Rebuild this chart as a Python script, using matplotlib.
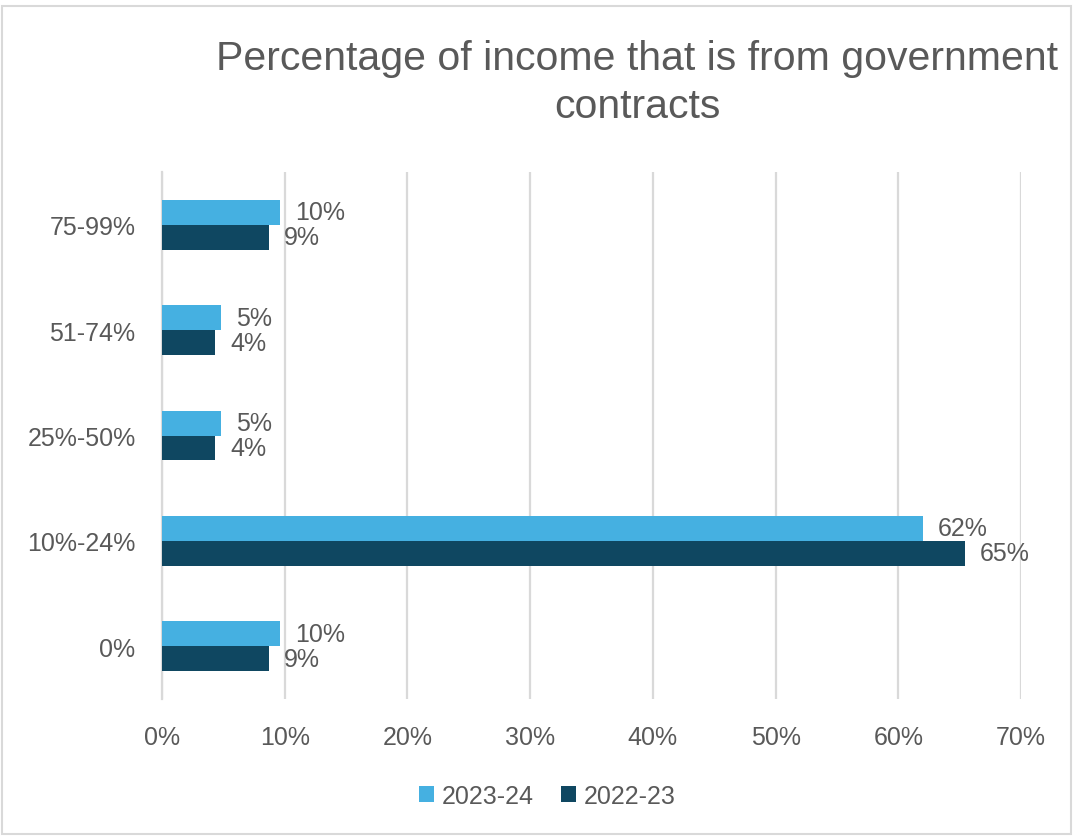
import matplotlib
matplotlib.use('Agg')
import matplotlib.pyplot as plt
from matplotlib.patches import Rectangle
import numpy as np

plt.rcParams['font.family'] = ['Liberation Sans', 'DejaVu Sans']

# ---- data (bottom to top) ----
categories = ['0%', '10%-24%', '25%-50%', '51-74%', '75-99%']
share_2023_24 = [9.6, 62.0, 4.8, 4.8, 9.6]
share_2022_23 = [8.7, 65.4, 4.3, 4.3, 8.7]
series_names = ['2023-24', '2022-23']

light_blue = '#45B0E1'
navy = '#0F4761'
text_grey = '#595959'
grid_grey = '#D9D9D9'
FS = 18

fig = plt.figure(figsize=(10.73, 8.37), dpi=100)
ax = fig.add_axes([162 / 1073, 1 - 700 / 837, (1021 - 162) / 1073, 527 / 837])

y = np.arange(len(categories))
h = 0.237
b1 = ax.barh(y + h / 2, share_2023_24, height=h, color=light_blue, label=series_names[0], zorder=3)
b2 = ax.barh(y - h / 2, share_2022_23, height=h, color=navy, label=series_names[1], zorder=3)

for bars, vals in ((b1, share_2023_24), (b2, share_2022_23)):
    for bar, v in zip(bars, vals):
        ax.annotate(f'{v:.0f}%', (bar.get_width(), bar.get_y() + bar.get_height() / 2),
                    xytext=(11, 0), textcoords='offset points', va='center', ha='left',
                    fontsize=FS, color=text_grey)

ax.set_xlim(0, 70)
ax.set_ylim(-0.5, 4.5)
ax.set_xticks(range(0, 71, 10))
ax.set_xticklabels([f'{t}%' for t in range(0, 71, 10)])
ax.set_yticks(y)
ax.set_yticklabels(categories)
ax.tick_params(length=0, labelsize=FS, labelcolor=text_grey)
ax.tick_params(axis='x', pad=19)
ax.tick_params(axis='y', pad=19)
ax.grid(axis='x', color=grid_grey, linewidth=1.6, zorder=0)
for s in ('top', 'right', 'bottom'):
    ax.spines[s].set_visible(False)
ax.spines['left'].set_color(grid_grey)
ax.spines['left'].set_linewidth(1.6)

fig.text(637 / 1073, 1 - 83 / 837, 'Percentage of income that is from government\ncontracts',
         ha='center', va='center', multialignment='center', fontsize=29.5,
         color=text_grey, linespacing=1.3)

ax.legend(loc='center', bbox_to_anchor=(547 / 1073, 1 - 797 / 837),
          bbox_transform=fig.transFigure, ncol=2, frameon=False,
          fontsize=FS, labelcolor=text_grey, handlelength=0.6, handleheight=0.6,
          handletextpad=0.3, columnspacing=1.1)

fig.add_artist(Rectangle((2 / 1073, 2 / 837), 1 - 4 / 1073, 1 - 9 / 837,
                         transform=fig.transFigure, fill=False,
                         edgecolor=grid_grey, linewidth=1.5))

fig.savefig('out.png', dpi=100)
